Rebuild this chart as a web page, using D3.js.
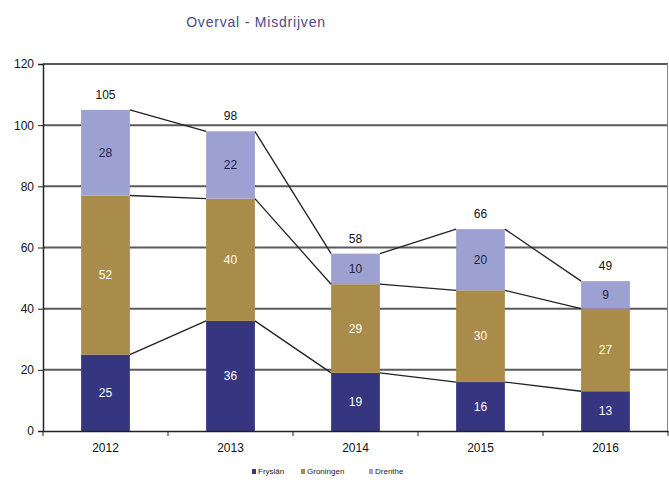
<!DOCTYPE html>
<html><head><meta charset="utf-8">
<script src="https://cdn.jsdelivr.net/npm/d3@7"></script>
<style>body{margin:0;background:#fff;}svg{display:block;font-family:"Liberation Sans",Arial,sans-serif;}</style>
</head><body>
<svg id="c" width="669" height="483"></svg>
<script>
const categories = ["2012","2013","2014","2015","2016"];
const seriesNames = ["Fryslân","Groningen","Drenthe"];
const fryslan = [25,36,19,16,13];
const groningen = [52,40,29,30,27];
const drenthe = [28,22,10,20,9];
const yTicks = [0,20,40,60,80,100,120];
const colors = ["#35367f","#a98b4a","#9ca1d2"];
const labelColors = ["#ffffff","#ffffff","#222244"];

const svg = d3.select("#c");
const m = {l:43, r:1, t:64, b:52};
const W = 669, H = 483;
const x = d3.scaleBand().domain(categories).range([m.l, W - m.r]).paddingInner(0.61).paddingOuter(0.305);
const y = d3.scaleLinear().domain([0,120]).range([H - m.b, m.t]);

const rows = categories.map((c,i)=>({cat:c, "Fryslân":fryslan[i], "Groningen":groningen[i], "Drenthe":drenthe[i]}));
const stacked = d3.stack().keys(seriesNames)(rows);

// gridlines
svg.append("g").selectAll("line").data(yTicks.filter(d=>d>0)).join("line")
  .attr("x1", m.l).attr("x2", W - m.r)
  .attr("y1", d=>y(d)).attr("y2", d=>y(d))
  .attr("stroke", "#5a5a5a").attr("stroke-width", 2);
// right border
svg.append("line").attr("x1", W-m.r-0.5).attr("x2", W-m.r-0.5).attr("y1", y(120)).attr("y2", y(0)).attr("stroke","#888").attr("stroke-width",1);

// bars
const g = svg.append("g");
stacked.forEach((s, si) => {
  g.append("g").selectAll("rect").data(s).join("rect")
    .attr("x", (d,i)=>x(categories[i]))
    .attr("width", x.bandwidth())
    .attr("y", d=>y(d[1]))
    .attr("height", d=>y(d[0]) - y(d[1]))
    .attr("fill", colors[si]);
});

// series lines
stacked.forEach((s) => {
  for (let i=0;i<s.length-1;i++){
    svg.append("line")
      .attr("x1", x(categories[i]) + x.bandwidth()).attr("y1", y(s[i][1]))
      .attr("x2", x(categories[i+1])).attr("y2", y(s[i+1][1]))
      .attr("stroke", "#222").attr("stroke-width", 1.3);
  }
});

// segment labels
stacked.forEach((s, si) => {
  svg.append("g").selectAll("text").data(s).join("text")
    .attr("x", (d,i)=>x(categories[i]) + x.bandwidth()/2)
    .attr("y", d=>(y(d[0])+y(d[1]))/2 + 4)
    .attr("text-anchor","middle")
    .attr("font-size", 12)
    .attr("fill", labelColors[si])
    .text(d=>d[1]-d[0]);
});

// totals
const totals = categories.map((c,i)=>fryslan[i]+groningen[i]+drenthe[i]);
svg.append("g").selectAll("text").data(totals).join("text")
  .attr("x", (d,i)=>x(categories[i]) + x.bandwidth()/2)
  .attr("y", d=>y(d) - 11)
  .attr("text-anchor","middle")
  .attr("font-size", 12)
  .attr("fill", "#111")
  .text(d=>d);

// y axis
const yAxis = svg.append("g").attr("transform", `translate(${m.l},0)`)
  .call(d3.axisLeft(y).tickValues(yTicks).tickSize(5).tickPadding(4));
yAxis.select(".domain").attr("stroke","#222").attr("stroke-width",1.5);
yAxis.selectAll(".tick line").attr("stroke","#222");
yAxis.selectAll("text").attr("font-size",12).attr("fill","#111").attr("font-family","Liberation Sans, Arial, sans-serif");

// x axis
const xAxis = svg.append("g").attr("transform", `translate(0,${y(0)})`)
  .call(d3.axisBottom(x).tickSize(0).tickPadding(12));
xAxis.select(".domain").attr("stroke","#222").attr("stroke-width",1.5);
xAxis.selectAll("text").attr("font-size",12).attr("fill","#111").attr("font-family","Liberation Sans, Arial, sans-serif");
// boundary ticks
const step = x.step();
svg.append("g").selectAll("line").data(d3.range(categories.length+1)).join("line")
  .attr("x1", d=>m.l + d*step).attr("x2", d=>m.l + d*step)
  .attr("y1", y(0)).attr("y2", y(0)+5)
  .attr("stroke","#222");

// title
svg.append("text").attr("x", 256).attr("y", 27).attr("text-anchor","middle")
  .attr("font-size", 14).attr("letter-spacing", 0.8).attr("fill","#4a4a86").text("Overval - Misdrijven");

// legend
const leg = svg.append("g").attr("transform","translate(252,474)");
const offs = [0, 49, 117];
seriesNames.forEach((n,i)=>{
  leg.append("rect").attr("x", offs[i]).attr("y",-5).attr("width",4).attr("height",5).attr("fill",colors[i]);
  leg.append("text").attr("x", offs[i]+6).attr("y",0).attr("font-size",8).attr("fill","#222").text(n);
});
</script>
</body></html>
